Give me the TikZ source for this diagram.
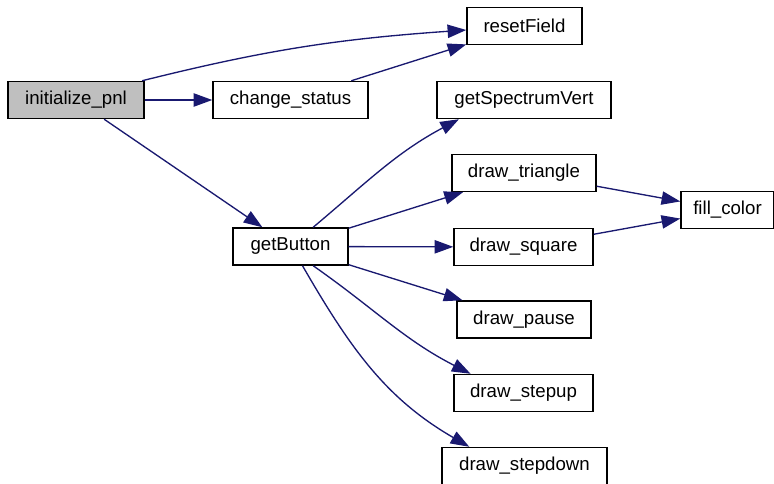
\documentclass[tikz,border=0pt]{standalone}
\usepackage{fontspec}
\setmainfont{Liberation Sans}
\definecolor{edgeblue}{RGB}{25, 25, 112}
\definecolor{rootgray}{RGB}{191, 191, 191}
\usetikzlibrary{arrows.meta, positioning}

\begin{document}
\begin{tikzpicture}[x=0.75pt, y=-0.75pt,
    fn/.style={draw=black, line width=1.1pt, fill=white, inner sep=0pt,
               minimum height=27.75pt, font=\fontsize{14}{16}\selectfont},
    call/.style={draw=edgeblue, line width=1pt,
                 -{Triangle[length=14pt, width=10pt]}}]
    \useasboundingbox (0,0) rectangle (774,483);
    % functions
    \node[fn, fill=rootgray, minimum width=102pt] (init) at (76,100) {initialize\_pnl};
    \node[fn, minimum width=116.25pt] (chg) at (290.5,100) {change\_status};
    \node[fn, minimum width=86.25pt] (reset) at (524.5,26) {resetField};
    \node[fn, minimum width=130.5pt] (spec) at (524,100) {getSpectrumVert};
    \node[fn, minimum width=108pt] (tri) at (524,173) {draw\_triangle};
    \node[fn, minimum width=69.75pt] (fill) at (727.5,210) {fill\_color};
    \node[fn, minimum width=86.25pt] (btn) at (290.5,246.5) {getButton};
    \node[fn, minimum width=104.25pt] (sq) at (523.5,247) {draw\_square};
    \node[fn, minimum width=100.5pt] (pause) at (524,319.5) {draw\_pause};
    \node[fn, minimum width=104.25pt] (up) at (523.5,393) {draw\_stepup};
    \node[fn, minimum width=123.75pt] (down) at (524.5,466) {draw\_stepdown};
    % calls
    \draw[call] ([xshift=-2pt]init.north east) to[out=14, in=184] ([yshift=-3pt]reset.west);
    \draw[call] (init) -- (chg);
    \draw[call] (chg) -- (reset);
    \draw[call] (init) -- (btn);
    \draw[call] ([xshift=17pt]btn.north) to[out=40, in=208] ([xshift=17pt]spec.south west);
    \draw[call] (btn) -- (tri);
    \draw[call] (btn) -- (sq);
    \draw[call] (btn) -- (pause);
    \draw[call] ([xshift=17pt]btn.south) to[out=-35, in=153] ([xshift=13pt]up.north west);
    \draw[call] ([xshift=9pt]btn.south) to[out=-60, in=150] ([xshift=21pt]down.north west);
    \draw[call] (tri) -- (fill);
    \draw[call] (sq) -- (fill);
\end{tikzpicture}
\end{document}
